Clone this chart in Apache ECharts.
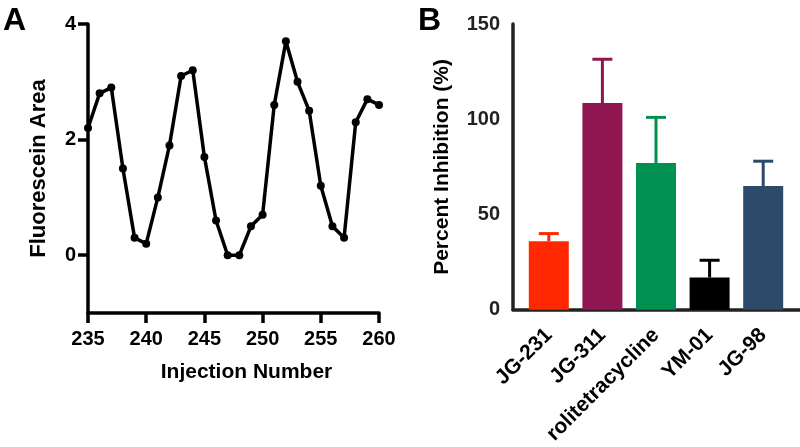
<!DOCTYPE html>
<html>
<head>
<meta charset="utf-8">
<script src="https://cdn.jsdelivr.net/npm/echarts@6/dist/echarts.min.js"></script>
<style>
html,body{margin:0;padding:0;background:#fff;}
#chart{width:800px;height:447px;}
</style>
</head>
<body>
<div id="chart"></div>
<script>
// Panel A data
var injectionNumbers = [235,236,237,238,239,240,241,242,243,244,245,246,247,248,249,250,251,252,253,254,255,256,257,258,259,260];
var fluoresceinArea = [2.2,2.8,2.9,1.5,0.3,0.2,1.0,1.9,3.1,3.2,1.7,0.6,0.0,0.0,0.5,0.7,2.6,3.7,3.0,2.5,1.2,0.5,0.3,2.3,2.7,2.6];
var aYTicks = [0, 2, 4];
// Panel B data
var categories = ['JG-231','JG-311','rolitetracycline','YM-01','JG-98'];
var inhibition = [36, 108.5, 77, 17, 65];
var inhibitionErr = [4, 23, 24, 9, 13];
var barColors = ['#FF2800','#901651','#00904F','#000000','#2E4A6B'];

var FONT = '"Liberation Sans", Arial, Helvetica, sans-serif';
var chart = echarts.init(document.getElementById('chart'));

var lineData = injectionNumbers.map(function(x, i){ return [x, fluoresceinArea[i]]; });
var barData = inhibition.map(function(v, i){ return {value: v, itemStyle: {color: barColors[i]}}; });
var errData = inhibition.map(function(v, i){ return [i, v, v + inhibitionErr[i]]; });

var option = {
  animation: false,
  backgroundColor: '#fff',
  textStyle: {fontFamily: FONT},
  title: [
    {text: 'A', left: -2, top: 0, textStyle: {fontFamily: FONT, fontSize: 32, fontWeight: 'bold', color: '#000'}},
    {text: 'B', left: 413, top: 0, textStyle: {fontFamily: FONT, fontSize: 32, fontWeight: 'bold', color: '#000'}}
  ],
  grid: [
    {left: 88, top: 24, width: 291, height: 289, containLabel: false},
    {left: 522, top: 24, width: 268, height: 286, containLabel: false},
    {left: 513, top: 24, right: 0, height: 286, containLabel: false}
  ],
  xAxis: [
    {
      gridIndex: 0, type: 'value', min: 235, max: 260, interval: 5,
      name: 'Injection Number', nameLocation: 'middle', nameGap: 49,
      nameTextStyle: {fontFamily: FONT, fontSize: 21, fontWeight: 'bold', color: '#000', padding: [0, 0, 0, 26]},
      axisLine: {onZero: false, lineStyle: {color: '#000', width: 3.5}},
      axisTick: {length: 10, lineStyle: {color: '#000', width: 3.5}},
      axisLabel: {fontFamily: FONT, fontSize: 20, fontWeight: 'bold', color: '#000', margin: 16},
      splitLine: {show: false}
    },
    {
      gridIndex: 1, type: 'category', data: categories,
      axisLine: {show: false},
      axisTick: {alignWithLabel: true, length: 12, lineStyle: {color: '#222', width: 3.5}},
      axisLabel: {fontFamily: FONT, fontSize: 21, fontWeight: 'bold', color: '#000', rotate: 45, margin: 22, interval: 0},
      splitLine: {show: false}
    },
    {
      gridIndex: 2, type: 'value', min: 0, max: 1,
      axisLine: {show: true, onZero: false, lineStyle: {color: '#222', width: 3.5}},
      axisTick: {show: false}, axisLabel: {show: false}, splitLine: {show: false}
    }
  ],
  yAxis: [
    {
      gridIndex: 0, type: 'value', min: -1, max: 4,
      name: 'Fluorescein Area', nameLocation: 'middle', nameGap: 38,
      nameTextStyle: {fontFamily: FONT, fontSize: 22, fontWeight: 'bold', color: '#000'},
      axisLine: {onZero: false, lineStyle: {color: '#000', width: 3.5}},
      axisTick: {length: 10, customValues: aYTicks, lineStyle: {color: '#000', width: 3.5}},
      axisLabel: {fontFamily: FONT, fontSize: 20, fontWeight: 'bold', color: '#000', margin: 12, customValues: aYTicks},
      splitLine: {show: false}
    },
    {
      gridIndex: 1, type: 'value', min: 0, max: 150, interval: 50, offset: 9,
      name: 'Percent Inhibition (%)', nameLocation: 'middle', nameGap: 60,
      nameTextStyle: {fontFamily: FONT, fontSize: 21, fontWeight: 'bold', color: '#000'},
      axisLine: {show: true, lineStyle: {color: '#222', width: 3.5}},
      axisTick: {length: 11, lineStyle: {color: '#222', width: 3.5}},
      axisLabel: {fontFamily: FONT, fontSize: 20, fontWeight: 'bold', color: '#222', margin: 13},
      splitLine: {show: false}
    },
    {
      gridIndex: 2, type: 'value', min: 0, max: 1, show: false
    }
  ],
  series: [
    {
      type: 'line', xAxisIndex: 0, yAxisIndex: 0, data: lineData,
      symbol: 'circle', symbolSize: 8,
      lineStyle: {color: '#000', width: 3.5},
      itemStyle: {color: '#000'}
    },
    {
      type: 'bar', xAxisIndex: 1, yAxisIndex: 1, data: barData, barWidth: 40
    },
    {
      type: 'custom', xAxisIndex: 1, yAxisIndex: 1, data: errData,
      renderItem: function(params, api){
        var i = api.value(0);
        var base = api.coord([i, api.value(1)]);
        var top = api.coord([i, api.value(2)]);
        var color = barColors[i];
        var half = 10;
        return {
          type: 'group',
          children: [
            {type: 'line', shape: {x1: base[0], y1: base[1], x2: top[0], y2: top[1]}, style: {stroke: color, lineWidth: 3}},
            {type: 'line', shape: {x1: top[0] - half, y1: top[1], x2: top[0] + half, y2: top[1]}, style: {stroke: color, lineWidth: 3}}
          ]
        };
      },
      z: 1
    }
  ]
};
chart.setOption(option);
</script>
</body>
</html>
